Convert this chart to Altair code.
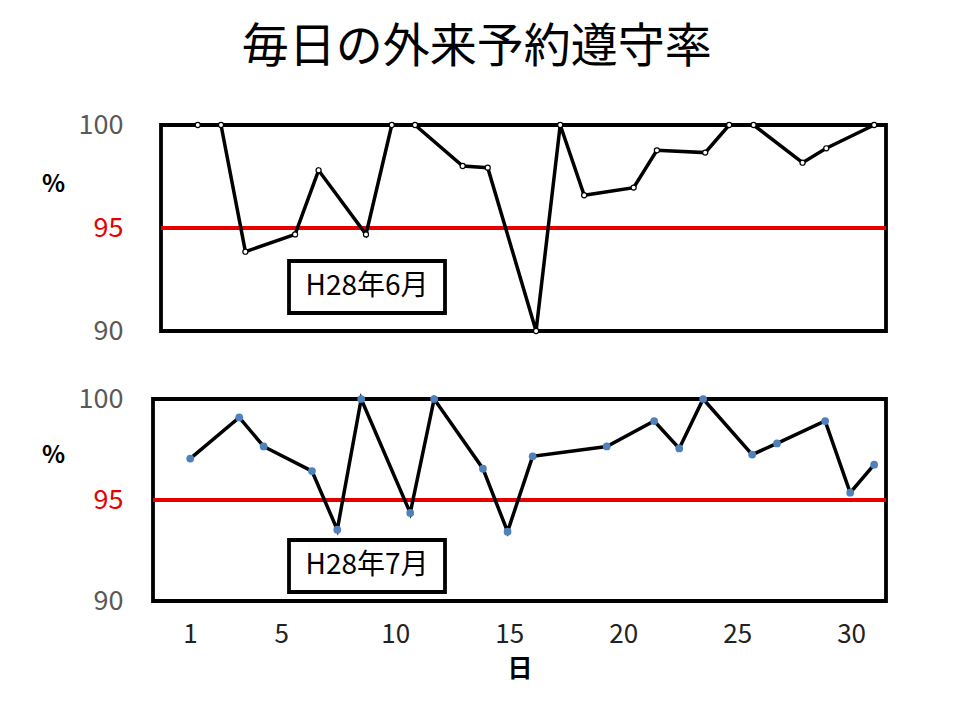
import altair as alt
import pandas as pd

FONT = "Noto Sans CJK JP"
RED = "#e60000"
GRAY = "#595959"
BLUE = "#4f81bd"

title_text = "毎日の外来予約遵守率"
june_label = "H28年6月"
july_label = "H28年7月"
target = 95
y_ticks = [90, 95, 100]
x_ticks = [1, 5, 10, 15, 20, 25, 30]

june_day = [1.34, 2.36, 3.43, 5.61, 6.64, 8.72, 9.85, 10.87, 12.96, 14.06, 16.18,
            17.24, 18.29, 20.46, 21.48, 23.60, 24.65, 25.72, 27.87, 28.91, 31.01]
june_rate = [100, 100, 93.85, 94.69, 97.8, 94.69, 100, 100, 98.01, 97.93, 90.0,
             100, 96.59, 96.96, 98.77, 98.66, 100, 100, 98.17, 98.87, 100]

july_day = [1.01, 3.16, 4.23, 6.35, 7.46, 8.51, 10.66, 11.71, 13.85, 14.93, 16.03,
            19.28, 21.36, 22.46, 23.51, 25.66, 26.75, 28.86, 29.96, 31.01]
july_rate = [97.05, 99.09, 97.65, 96.43, 93.53, 100, 94.36, 100, 96.55, 93.43, 97.16,
             97.65, 98.91, 97.55, 100, 97.25, 97.8, 98.91, 95.36, 96.75]

W = 733
XDOMAIN = [-0.623, 31.53]


def panel(days, rates, label, height, frame_left, show_x, hollow, pct_y, box):
    df = pd.DataFrame({"day": days, "rate": rates})
    yscale = alt.Scale(domain=[90, 100], nice=False, zero=False)
    xscale = alt.Scale(domain=XDOMAIN, nice=False, zero=False)
    yaxis = alt.Axis(
        values=y_ticks, grid=False, ticks=False, domain=False,
        labelFont=FONT, labelFontSize=27, labelPadding=30,
        labelFlush=False, labelOverlap=False,
        labelColor=alt.condition("datum.value == 95", alt.value(RED), alt.value(GRAY)),
        title="%", titleAngle=0, titleX=-100, titleY=pct_y,
        titleAlign="center", titleBaseline="middle",
        titleFont=FONT, titleFontSize=24, titleFontWeight="bold", titleColor="black",
    )
    if show_x:
        xaxis = alt.Axis(
            values=x_ticks, grid=False, ticks=False, domain=False,
            labelFont=FONT, labelFontSize=26, labelColor="#222222",
            labelPadding=20, labelFlush=False, labelOverlap=False,
            title="日", titleFont=FONT, titleFontSize=25, titleFontWeight="bold",
            titleColor="black", titlePadding=9,
        )
    else:
        xaxis = None

    rule = alt.Chart(pd.DataFrame({"t": [target]})).mark_rule(
        color=RED, strokeWidth=3.8
    ).encode(y=alt.Y("t:Q", scale=yscale, axis=yaxis),
             x=alt.value(frame_left), x2=alt.value(W))

    frame = alt.Chart(pd.DataFrame({"a": [0]})).mark_rect(
        fill="transparent", stroke="black", strokeWidth=3.8
    ).encode(x=alt.value(frame_left), x2=alt.value(W), y=alt.value(0), y2=alt.value(height))

    base = alt.Chart(df).encode(
        x=alt.X("day:Q", scale=xscale, axis=xaxis),
        y=alt.Y("rate:Q", scale=yscale),
    )
    line = base.mark_line(color="black", strokeWidth=3.5)
    if hollow:
        pts = base.mark_point(shape="circle", filled=False, color="black",
                              size=26, strokeWidth=1.2, fill="white", fillOpacity=1)
    else:
        pts = base.mark_circle(color=BLUE, size=60, opacity=1)

    bx1, bx2, by1, by2 = box
    rect = alt.Chart(pd.DataFrame({"a": [0]})).mark_rect(
        fill="white", stroke="black", strokeWidth=3.8
    ).encode(x=alt.value(bx1), x2=alt.value(bx2), y=alt.value(by1), y2=alt.value(by2))
    txt = alt.Chart(pd.DataFrame({"a": [0]})).mark_text(
        font=FONT, fontSize=28, color="black", align="center", baseline="middle"
    ).encode(x=alt.value((bx1 + bx2) / 2), y=alt.value((by1 + by2) / 2),
             text=alt.value(label))

    return alt.layer(frame, rule, line, pts, rect, txt).properties(
        width=W, height=height, view=alt.ViewBackground(stroke="transparent")
    )


top = panel(june_day, june_rate, june_label, 206, 8, False, True, 59,
            (136, 292, 136, 188))
bottom = panel(july_day, july_rate, july_label, 202, 0, True, False, 56,
               (136, 292, 141, 193))

chart = alt.vconcat(top, bottom, spacing=39).properties(
    title=alt.TitleParams(title_text, font=FONT, fontSize=47, fontWeight="normal",
                          color="black", anchor="middle", offset=39, dx=12),
    padding={"left": 32, "top": 15, "right": 10, "bottom": 10},
    background="white",
).configure_view(stroke="transparent")

chart.save("out.html", embed_options={"renderer": "svg", "actions": False})
